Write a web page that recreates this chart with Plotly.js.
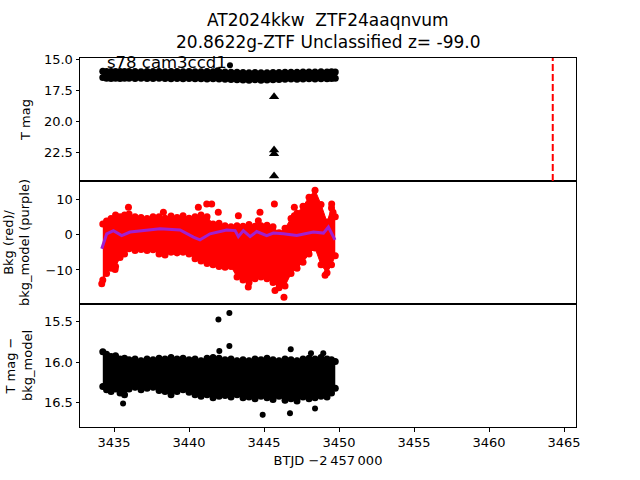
<!DOCTYPE html>
<html>
<head>
<meta charset="utf-8">
<script src="https://cdn.plot.ly/plotly-3.0.1.min.js"></script>
<style>html,body{margin:0;padding:0;background:#fff;}#chart{width:640px;height:480px;}</style>
</head>
<body>
<div id="chart"></div>
<script>
// ---- data ----
const tBand = [3434.25, 3434.5, 3434.8, 3435.1, 3435.4, 3435.7, 3436.0, 3436.4, 3436.8, 3437.2,
  3437.6, 3438.0, 3438.4, 3438.8, 3439.2, 3439.6, 3440.0, 3440.4, 3440.8, 3441.2,
  3441.6, 3442.0, 3442.4, 3442.8, 3443.2, 3443.6, 3444.0, 3444.4, 3444.8, 3445.2,
  3445.6, 3446.0, 3446.4, 3446.8, 3447.2, 3447.6, 3448.0, 3448.4, 3448.8, 3449.2,
  3449.5, 3449.75];

// top panel: T mag band (upper / lower edge)
const tmagHi = [15.93, 15.95, 15.96, 15.95, 15.97, 15.96, 15.97, 15.96, 15.98, 15.97,
  15.96, 15.97, 15.98, 15.97, 15.96, 15.98, 15.97, 15.99, 15.98, 15.97,
  15.98, 15.99, 16.00, 16.02, 16.03, 16.05, 16.06, 16.04, 16.07, 16.06,
  16.05, 16.04, 16.03, 16.02, 16.03, 16.01, 16.00, 16.01, 15.99, 16.00,
  15.99, 16.00];
const tmagLo = [16.45, 16.50, 16.52, 16.50, 16.53, 16.51, 16.50, 16.52, 16.50, 16.53,
  16.52, 16.51, 16.53, 16.55, 16.52, 16.54, 16.53, 16.55, 16.54, 16.56,
  16.55, 16.57, 16.58, 16.60, 16.62, 16.64, 16.66, 16.63, 16.67, 16.64,
  16.62, 16.60, 16.58, 16.57, 16.58, 16.56, 16.55, 16.56, 16.54, 16.55,
  16.53, 16.50];
const tmagOutT = [3442.73, 3441.9];
const tmagOutM = [15.45, 15.85];
const limT = [3445.67, 3445.67, 3445.67, 3445.67];
const limM = [18.0, 22.3, 22.6, 24.4];
const peakTime = 3464.25;

// middle panel: background (red band) and bkg model (purple)
const bkgHi = [3.0, 3.8, 4.5, 5.5, 5.0, 5.5, 5.8, 5.0, 4.8, 4.5,
  5.0, 5.0, 4.6, 5.2, 4.8, 5.3, 4.6, 5.0, 5.5, 5.0,
  3.0, 3.2, 2.5, 2.2, 2.5, 2.3, 2.8, 2.3, 2.5, 2.6,
  2.2, 0.5, 1.8, 4.5, 6.0, 8.0, 10.5, 12.5, 8.5, 3.5,
  7.5, 5.0];
const bkgLo = [-12.8, -11.0, -9.5, -9.0, -6.5, -5.5, -4.0, -4.5, -4.2, -4.5,
  -4.3, -5.5, -5.8, -5.0, -5.2, -5.0, -5.5, -6.8, -7.5, -8.2,
  -8.5, -9.0, -9.2, -9.0, -12.0, -12.8, -13.5, -12.5, -12.0, -12.5,
  -13.5, -15.0, -14.5, -11.0, -9.5, -7.8, -5.5, -3.8, -8.5, -10.8,
  -8.5, -6.0];
const bkgOutT = [3441.18, 3441.51, 3441.95, 3443.29, 3444.73, 3444.62, 3445.69, 3447.02, 3447.02,
  3446.33, 3445.73, 3443.95, 3449.51, 3449.6, 3449.07, 3435.07, 3434.18, 3435.96, 3438.29, 3440.62];
const bkgOutV = [8.6, 8.6, 6.3, 5.3, 6.3, 3.9, 8.6, 7.7, 5.3,
  -17.7, -15.8, -14.8, 8.6, 6.3, -11.5, -9.9, -13.9, 7.7, 6.3, 7.7];
const modelT = [3434.18, 3434.51, 3434.96, 3435.51, 3436.07, 3437.18, 3438.07, 3439.4, 3440.29, 3440.73,
  3441.4, 3442.51, 3443.07, 3443.29, 3443.62, 3444.07, 3444.51, 3445.18, 3445.62, 3446.29,
  3447.18, 3448.29, 3448.96, 3449.29, 3449.73];
const modelV = [-4.0, 0.2, 1.1, -0.3, 0.7, 1.1, 1.6, 1.3, -0.75, -1.5,
  0.2, 1.3, 1.1, -0.6, 1.1, -0.6, 0.85, -0.3, 0.4, 0.2,
  -0.3, 0.7, 0.4, 2.1, -1.5];

// bottom panel: T mag - bkg_model band
const diffHi = [15.87, 15.90, 15.93, 15.92, 15.96, 15.95, 15.97, 15.96, 15.98, 15.96,
  15.97, 15.95, 15.96, 15.94, 15.96, 15.95, 15.97, 15.96, 15.98, 15.95,
  15.94, 15.95, 15.97, 15.96, 15.98, 15.97, 15.98, 15.96, 15.97, 15.95,
  15.97, 15.98, 15.96, 15.97, 15.98, 15.96, 15.95, 15.96, 15.94, 15.96,
  15.97, 15.99];
const diffLo = [16.30, 16.34, 16.36, 16.33, 16.38, 16.40, 16.33, 16.31, 16.34, 16.32,
  16.31, 16.35, 16.36, 16.40, 16.36, 16.34, 16.37, 16.40, 16.42, 16.40,
  16.44, 16.42, 16.41, 16.43, 16.40, 16.44, 16.43, 16.45, 16.42, 16.44,
  16.46, 16.42, 16.47, 16.45, 16.48, 16.43, 16.45, 16.44, 16.42, 16.43,
  16.38, 16.32];
const diffOutT = [3441.96, 3442.69, 3442.69, 3442.02, 3435.6, 3444.91, 3446.73, 3446.78, 3448.13, 3448.95, 3448.4];
const diffOutM = [15.47, 15.39, 15.80, 15.86, 16.51, 16.65, 16.63, 15.84, 15.89, 15.89, 16.57];

// x ticks
const xTicks = [3435, 3440, 3445, 3450, 3455, 3460, 3465];
const titleLines = ['AT2024kkw  ZTF24aaqnvum', '20.8622g-ZTF Unclassified z= -99.0'];

// ---- build traces ----
function band(xa, ya, lo, hi, color, msize, err) {
  const eb = err ? {type: 'constant', value: err, color: color, thickness: 1.5, width: 0} : undefined;
  return [
    {x: tBand, y: lo, xaxis: xa, yaxis: ya, type: 'scatter', mode: 'lines+markers',
      line: {color: color, width: 1}, marker: {color: color, size: msize}, error_y: eb},
    {x: tBand, y: hi, xaxis: xa, yaxis: ya, type: 'scatter', mode: 'lines+markers', fill: 'tonexty',
      fillcolor: color, line: {color: color, width: 1}, marker: {color: color, size: msize}, error_y: eb}
  ];
}

const traces = [];
// top
traces.push(...band('x3', 'y3', tmagLo, tmagHi, '#000000', 7, 0.04));
traces.push({x: tmagOutT, y: tmagOutM, xaxis: 'x3', yaxis: 'y3', type: 'scatter', mode: 'markers',
  marker: {color: '#000', size: 6}});
traces.push({x: limT, y: limM, xaxis: 'x3', yaxis: 'y3', type: 'scatter', mode: 'markers',
  marker: {color: '#000', size: 9, symbol: 'triangle-up'}, cliponaxis: true});
// middle
traces.push(...band('x2', 'y2', bkgLo, bkgHi, '#ff0000', 7, 0));
traces.push({x: bkgOutT, y: bkgOutV, xaxis: 'x2', yaxis: 'y2', type: 'scatter', mode: 'markers',
  marker: {color: '#ff0000', size: 7}});
traces.push({x: modelT, y: modelV, xaxis: 'x2', yaxis: 'y2', type: 'scatter', mode: 'lines',
  line: {color: '#a020d0', width: 3}});
// bottom
traces.push(...band('x', 'y', diffLo, diffHi, '#000000', 7, 0.035));
traces.push({x: diffOutT, y: diffOutM, xaxis: 'x', yaxis: 'y', type: 'scatter', mode: 'markers',
  marker: {color: '#000', size: 6}, error_y: {type: 'constant', value: 0.03, color: '#000', thickness: 1.5, width: 0}});

const FONT = 'DejaVu Sans, sans-serif';
const xRange = [3432.73, 3465.8];
const common = {showline: true, mirror: true, linecolor: '#000', linewidth: 1, zeroline: false,
  showgrid: false, ticks: 'outside', ticklen: 3.5, tickcolor: '#000', tickfont: {family: FONT, size: 13, color: '#000'}};

const layout = {
  width: 640, height: 480,
  margin: {l: 80, r: 64, t: 58, b: 53},
  paper_bgcolor: '#fff', plot_bgcolor: '#fff',
  showlegend: false, hovermode: false,
  font: {family: FONT, color: '#000'},
  xaxis: Object.assign({}, common, {range: xRange, anchor: 'y', tickvals: xTicks, ticktext: xTicks.map(String),
    title: {text: 'BTJD \u22122\u2009457\u2009000', font: {family: FONT, size: 13, color: '#000'}, standoff: 6}}),
  xaxis2: Object.assign({}, common, {range: xRange, anchor: 'y2', matches: 'x', showticklabels: false, ticks: ''}),
  xaxis3: Object.assign({}, common, {range: xRange, anchor: 'y3', matches: 'x', showticklabels: false, ticks: ''}),
  yaxis: Object.assign({}, common, {domain: [0, 0.3333], range: [16.80, 15.28], tickvals: [15.5, 16.0, 16.5],
    ticktext: ['15.5', '16.0', '16.5'],
    title: {text: 'T mag \u2212<br>bkg_model', font: {family: FONT, size: 13, color: '#000'}, standoff: 8}}),
  yaxis2: Object.assign({}, common, {domain: [0.3333, 0.6667], range: [-19.6, 15.1], tickvals: [-10, 0, 10],
    ticktext: ['\u221210', '0', '10'],
    title: {text: 'Bkg (red)/<br>bkg_model (purple)', font: {family: FONT, size: 13, color: '#000'}, standoff: 12}}),
  yaxis3: Object.assign({}, common, {domain: [0.6667, 1], range: [24.8, 14.87], tickvals: [15, 17.5, 20, 22.5],
    ticktext: ['15.0', '17.5', '20.0', '22.5'],
    title: {text: 'T mag', font: {family: FONT, size: 13, color: '#000'}, standoff: 10}}),
  shapes: [{type: 'line', xref: 'x3', yref: 'y3 domain', x0: peakTime, x1: peakTime, y0: 0, y1: 1,
    line: {color: '#ff0000', width: 2, dash: '7px,3px'}}],
  annotations: [
    {text: titleLines[0], xref: 'paper', yref: 'paper', x: 0.5, y: 1.103, xanchor: 'center', yanchor: 'middle',
      showarrow: false, font: {family: FONT, size: 17, color: '#000'}},
    {text: titleLines[1], xref: 'paper', yref: 'paper', x: 0.5, y: 1.043, xanchor: 'center', yanchor: 'middle',
      showarrow: false, font: {family: FONT, size: 17, color: '#000'}},
    {text: 's78 cam3ccd1', xref: 'x3 domain', yref: 'y3 domain', x: 0.05, y: 0.96,
    xanchor: 'left', yanchor: 'middle', showarrow: false, font: {family: FONT, size: 16.5, color: '#000'}}]
};

Plotly.newPlot('chart', traces, layout, {staticPlot: true, displayModeBar: false});
</script>
</body>
</html>
